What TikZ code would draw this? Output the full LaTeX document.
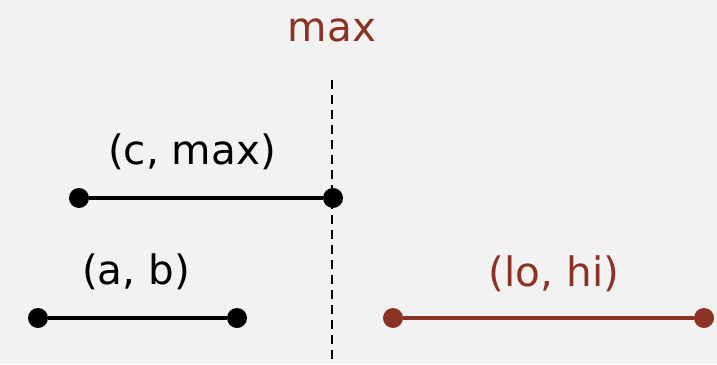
\documentclass[tikz,border=0pt]{standalone}
\usepackage{fontspec}
\setmainfont{DejaVu Sans}
\definecolor{bg}{HTML}{F2F2F2}
\definecolor{dred}{RGB}{139,50,36}
\begin{document}
\begin{tikzpicture}[x=1pt,y=-1pt,
  endpt/.style={circle,fill=#1,inner sep=0pt,minimum size=20pt},
  seg/.style={line width=4.5pt,draw=#1},
  lbl/.style={font=\fontsize{40.5}{44}\selectfont,text=#1,inner sep=0pt}]
\fill[bg] (0,0) rectangle (717,364);
\useasboundingbox (0,0) rectangle (717,364);
\coordinate (dtop) at (332,80);
\coordinate (dbot) at (332,364);
\draw[line width=2.6pt,dash pattern=on 9pt off 6pt] (dtop) -- (dbot);
\node[lbl=dred] (tmax) at (332,30) {max};
\node[endpt=black] (c) at (79,198) {};
\node[endpt=black] (m) at (333,198) {};
\draw[seg=black] (c) -- (m);
\node[lbl=black] (tcm) at (192,152) {(c, max)};
\node[endpt=black] (a) at (38,318) {};
\node[endpt=black] (b) at (237,318) {};
\draw[seg=black] (a) -- (b);
\node[lbl=black] (tab) at (136,272) {(a, b)};
\node[endpt=dred] (lo) at (393,318) {};
\node[endpt=dred] (hi) at (704,318) {};
\draw[seg=dred] (lo) -- (hi);
\node[lbl=dred] (tlh) at (554,274) {(lo, hi)};
\end{tikzpicture}
\end{document}
